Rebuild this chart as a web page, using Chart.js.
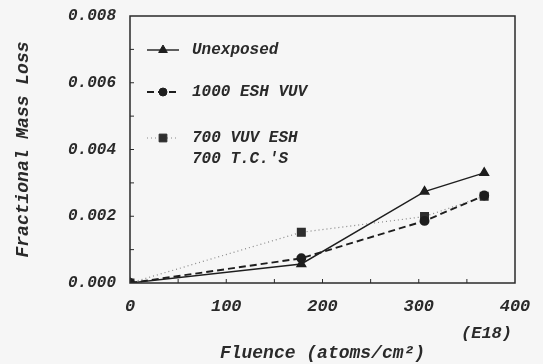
<!DOCTYPE html>
<html>
<head>
<meta charset="utf-8">
<script src="https://cdn.jsdelivr.net/npm/chart.js@4"></script>
<style>
  html, body { margin: 0; padding: 0; background: #f6f6f6; }
  #wrap { width: 543px; height: 364px; }
</style>
</head>
<body>
<div id="wrap"><canvas id="chart" width="543" height="364"></canvas></div>
<script>
const fluence = [0, 178, 306, 368];
const unexposed = [0, 0.00057, 0.00274, 0.0033];
const esh1000 = [0, 0.00074, 0.00186, 0.00262];
const vuv700 = [0, 0.00152, 0.00199, 0.0026];
const seriesNames = ["Unexposed", "1000 ESH VUV", ["700 VUV ESH", "700 T.C.'S"]];
const yMinorTicks = [0.001, 0.002, 0.003, 0.004, 0.005, 0.006, 0.007];
const xMinorTicks = [50, 100, 150, 200, 250, 300, 350];

const ink = "#2a2a2a";
const fontFam = "'Liberation Mono', 'DejaVu Sans Mono', monospace";

function pts(ys) {
    return fluence.map((x, i) => ({ x, y: ys[i] }));
}

const datasets = [
    {
        label: seriesNames[0], data: pts(unexposed),
        borderColor: "#1e1e1e", backgroundColor: "#1e1e1e", borderWidth: 1.4,
        pointStyle: "triangle", pointRadius: 5
    },
    {
        label: seriesNames[1], data: pts(esh1000),
        borderColor: "#1e1e1e", backgroundColor: "#1e1e1e", borderWidth: 1.9,
        borderDash: [7, 4], pointStyle: "circle", pointRadius: 4
    },
    {
        label: seriesNames[2], data: pts(vuv700),
        borderColor: "#888", backgroundColor: "#2e2e2e", borderWidth: 1.2,
        borderDash: [1, 3], pointStyle: "rect", pointRadius: 5.5,
        pointBorderColor: "#2e2e2e"
    }
];

// box, inward ticks, legend and the (E18) note
const decor = {
    id: "decor",
    afterDatasetsDraw(chart) {
        const { ctx, chartArea: a, scales } = chart;
        ctx.save();
        ctx.strokeStyle = ink;
        ctx.lineWidth = 1.5;
        ctx.strokeRect(a.left, a.top, a.right - a.left, a.bottom - a.top);
        ctx.lineWidth = 1;
        ctx.beginPath();
        for (const v of yMinorTicks) {
            const y = scales.y.getPixelForValue(v);
            ctx.moveTo(a.left, y); ctx.lineTo(a.left + 4, y);
        }
        for (const v of xMinorTicks) {
            const x = scales.x.getPixelForValue(v);
            ctx.moveTo(x, a.bottom); ctx.lineTo(x, a.bottom - 4);
        }
        ctx.stroke();

        // legend
        const rows = [50, 92, 138];
        ctx.font = "italic bold 16px " + fontFam;
        ctx.textBaseline = "middle";
        chart.data.datasets.forEach((ds, i) => {
            const y = rows[i];
            ctx.strokeStyle = ds.borderColor;
            ctx.lineWidth = ds.borderWidth;
            ctx.setLineDash(ds.borderDash || []);
            ctx.beginPath();
            ctx.moveTo(147, y); ctx.lineTo(179, y);
            ctx.stroke();
            ctx.setLineDash([]);
            ctx.fillStyle = ds.backgroundColor;
            ctx.strokeStyle = ds.pointBorderColor || ds.borderColor;
            ctx.lineWidth = 1;
            Chart.helpers.drawPoint(ctx, {
                pointStyle: ds.pointStyle, radius: ds.pointRadius, rotation: 0, borderWidth: 1
            }, 163, y);
            ctx.fillStyle = ink;
            const lines = Array.isArray(ds.label) ? ds.label : [ds.label];
            lines.forEach((t, j) => ctx.fillText(t, 192, y + j * 21));
        });

        ctx.textAlign = "right";
        ctx.font = "italic bold 17px " + fontFam;
        ctx.fillText("(E18)", 512, 334);
        ctx.restore();
    }
};

new Chart(document.getElementById("chart"), {
    type: "line",
    data: { datasets },
    options: {
        responsive: false,
        animation: false,
        events: [],
        layout: { padding: { top: 16, right: 28, left: 13, bottom: 0 } },
        plugins: { legend: { display: false }, tooltip: { enabled: false } },
        elements: { line: { tension: 0 } },
        scales: {
            x: {
                type: "linear", min: 0, max: 400,
                grid: { display: false, drawTicks: false },
                border: { display: false },
                ticks: { stepSize: 100, padding: 14, color: ink, font: { family: fontFam, style: "italic", weight: "bold", size: 17 } },
                title: { display: true, text: "Fluence (atoms/cm²)", color: ink, padding: { top: 22, bottom: 0 },
                    font: { family: fontFam, style: "italic", weight: "bold", size: 18 } },
                afterFit(s) { s.height = 81; s.paddingLeft = 0; s.paddingRight = 0; }
            },
            y: {
                min: 0, max: 0.008,
                grid: { display: false, drawTicks: false },
                border: { display: false },
                ticks: { stepSize: 0.002, padding: 14, color: ink,
                    font: { family: fontFam, style: "italic", weight: "bold", size: 16 },
                    callback: v => v.toFixed(3) },
                title: { display: true, text: "Fractional Mass Loss", color: ink, padding: { top: 0, bottom: 10 },
                    font: { family: fontFam, style: "italic", weight: "bold", size: 18 } },
                afterFit(s) { s.width = 117; s.paddingTop = 0; s.paddingBottom = 0; }
            }
        }
    },
    plugins: [decor]
});
</script>
</body>
</html>
